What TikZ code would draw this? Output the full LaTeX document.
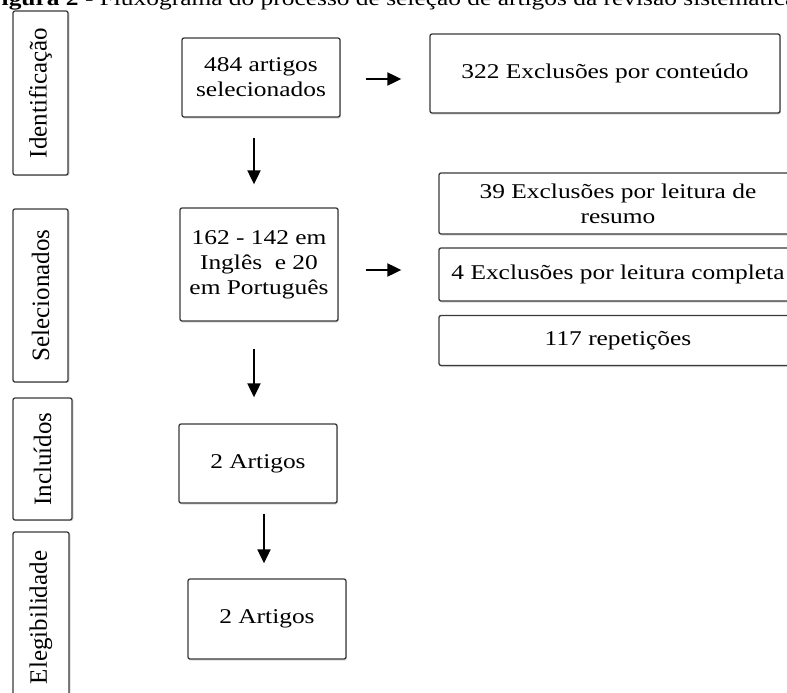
\documentclass[tikz,border=0pt]{standalone}
\usepackage{fontspec}
\setmainfont{Liberation Serif}[FakeStretch=1.21]
\newfontfamily\sidefont{Liberation Serif}
\usetikzlibrary{arrows.meta, shadows}
\definecolor{boxline}{HTML}{3A3A3A}
\tikzstyle{stepbox} = [rectangle, rounded corners=2pt, minimum width=158pt, text centered, align=center, draw=boxline, line width=1.3pt, fill=white, drop shadow={shadow xshift=0.8pt, shadow yshift=-1.5pt, opacity=0.3}, font=\fontsize{21}{25}\selectfont]
\tikzstyle{exbox} = [stepbox, minimum width=358pt]
\tikzstyle{phase} = [rectangle, rounded corners=2pt, rotate=90, minimum height=55pt, draw=boxline, line width=1.3pt, fill=white, drop shadow={shadow xshift=1.5pt, shadow yshift=-0.8pt, opacity=0.3}, font=\sidefont\fontsize{25}{28}\selectfont]
\tikzstyle{arrow} = [line width=2pt, -{Triangle[length=14pt,width=13pt]}]

\begin{document}
\begin{tikzpicture}[x=1pt, y=1pt, node distance=190pt]
\useasboundingbox (0,0) rectangle (787,-693);
\fill[white] (0,0) rectangle (787,-693);
\node (cap) [anchor=base west, inner sep=0pt, font=\fontsize{21}{25}\selectfont] at (-14,-6) {\textbf{Figura 2} - Fluxograma do processo de seleção de artigos da revisão sistemática};
% fases
\node (ident) [phase, minimum width=164pt] at (40.5,-93) {Identificação};
\node (sel) [phase, minimum width=173pt] at (40.5,-295.5) {Selecionados};
\node (incl) [phase, minimum width=122pt, minimum height=59pt] at (42.5,-459) {Incluídos};
\node (eleg) [phase, minimum width=171pt, minimum height=56pt] at (41,-617.5) {Elegibilidade};
% fluxo principal
\node (start) [stepbox, minimum height=79pt] at (261,-77.5) {484 artigos\\selecionados};
\node (pro) [stepbox, minimum height=113pt, below of=start, xshift=-2pt, yshift=3pt] {162 - 142 em\\Inglês\ \ e 20\\em Português};
\node (inc) [stepbox, minimum height=79pt, below of=pro, xshift=-1pt, yshift=-9pt] {2 Artigos};
\node (ele) [stepbox, minimum height=80pt, below of=inc, xshift=9pt, yshift=34.5pt] {2 Artigos};
% exclusoes
\node (excont) [stepbox, minimum width=350pt, minimum height=79pt, right of=start, xshift=154pt, yshift=4pt] {322 Exclusões por conteúdo};
\node (exres) [exbox, minimum height=61pt] at (618,-203.5) {39 Exclusões por leitura de\\resumo};
\node (exfull) [exbox, minimum height=53pt] at (618,-274.5) {4 Exclusões por leitura completa};
\node (rep) [exbox, minimum height=50pt] at (618,-340.5) {117 repetições};
\draw [arrow, shorten <=25pt, shorten >=28pt] ([yshift=-1.5pt]start.east) -- ([yshift=-1.5pt]start.east -| excont.west);
\draw [arrow, shorten <=20pt, shorten >=23pt] ([xshift=-7pt]start.south) -- ([xshift=-5pt]pro.north);
\draw [arrow, shorten <=27pt, shorten >=37pt] ([yshift=-5.5pt]pro.east) -- ([yshift=-5.5pt]pro.east -| exfull.west);
\draw [arrow, shorten <=27pt, shorten >=26pt] ([xshift=-5pt]pro.south) -- ([xshift=-4pt]inc.north);
\draw [arrow, shorten <=10pt, shorten >=15pt] ([xshift=6pt]inc.south) -- ([xshift=-3pt]ele.north);
\end{tikzpicture}
\end{document}
